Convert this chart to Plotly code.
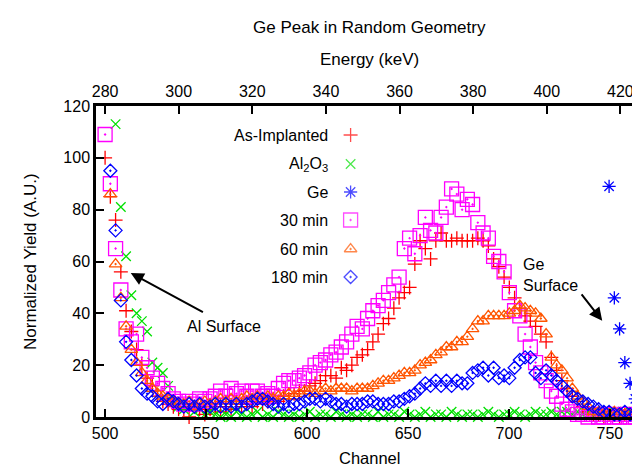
import numpy as np
import plotly.graph_objects as go

# ---------------- data ----------------
# measurement channel grid (shared by the sample spectra)
channel = np.round(500 + 2.6 * np.arange(103), 1)

as_implanted = [
    100, 85, 76, 56, 41, 33, 26, 20, 15, 12,
    8, 6, 5, 4, 3, 3, 0, 4, 3, 1,
    3, 4, 2, 4, 3, 5, 4, 5, 4, 6,
    5, 6, 7, 6, 8, 7, 9, 10, 10, 12,
    13, 14, 16, 16, 15, 19, 18, 20, 23, 24,
    26, 29, 32, 36, 38, 42, 46, 48, 50, 59,
    68, 65, 61, 68, 71, 68, 68, 69, 68, 68,
    68, 69, 68, 66, 61, 58, 54, 50, 46, 42,
    39, 37, 35, 32, 29, 23, 18, 14, 11, 8,
    6, 4, 2, 1, 1, 0, 1, 1, 0, 1,
    1, 0, 1]

al2o3 = [
    None, None, 113, 81, 62, 47, 40, 37, 33, 21,
    19, 17, 12, 6, 4, 3, 4, 2, 3, 1,
    2, 1, 0, 1, 0, 2, 1, 0, 1, 2,
    0, 1, 0, 2, 1, 0, 1, 0, 1, 2,
    0, 1, 1, 0, 2, 1, 0, 1, 0, 1,
    1, 0, 2, 0, 1, 1, 0, 2, 1, 0,
    1, 2, 0, 1, 1, 0, 2, 1, 0, 1,
    1, 0, 1, 2, 1, 0, 1, 1, 2, 1,
    0, 1, 2, 1, 1, 2, 1, 2, 2, 1,
    2, 1, 2, 1, 2, 2, 1, 2, 1, 2,
    2, 1, 2]

ge_channel = [749.6, 752.2, 754.8, 757.4, 760.0, 762.6, 765.2]
ge_yield = [89, 46, 34, 21, 13, 7, 4]

min30 = [
    109, 90, 65, 49, 34, 29, 32, 23, 19, 15,
    13, 11, 9, 7, 6, 5, 6, 5, 7, 6,
    7, 8, 10, 8, 11, 9, 10, 8, 10, 10,
    8, 9, 8, 11, 13, 14, 14, 15, 16, 17,
    20, 21, 22, 24, 25, 27, 29, 32, 35, 34,
    38, 41, 43, 45, 48, 51, 54, 65, 69, 63,
    70, 77, 72, 71, 77, 81, 88, 86, 80, 84,
    82, 75, 71, 69, 62, 60, 56, 48, 41, 39,
    32, 27, 21, 17, 14, 10, 8, 5, 3, 2,
    1, 1, 0, 1, 0, 0, 1, 0, 0, 1,
    0, 0, 1]

min60 = [
    None, 86, 59, 46, 35, 26, 21, 17, 14, 11,
    9, 8, 7, 6, 5, 5, 6, 4, 5, 6,
    5, 6, 7, 6, 7, 6, 7, 8, 7, 8,
    7, 8, 7, 8, 8, 9, 8, 9, 10, 10,
    9, 10, 11, 10, 11, 11, 11, 10, 11, 11,
    11, 12, 13, 14, 14, 15, 16, 17, 17, 18,
    20, 21, 22, 24, 25, 27, 27, 29, 29, 31,
    34, 37, 37, 39, 39, 39, 39, 40, 41, 43,
    42, 41, 40, 38, 32, 23, 20, 18, 15, 11,
    8, 6, 4, 2, 2, 1, 1, 2, 1, 1,
    1, 2, 1]

min180 = [
    None, 95, 72, 45, 29, 22, 16, 11, 9, 8,
    6, 5, 7, 6, 5, 4, 5, 4, 5, 4,
    4, 5, 4, 5, 4, 5, 4, 5, 6, 7,
    7, 6, 5, 4, 5, 4, 5, 5, 6, 7,
    7, 6, 7, 6, 5, 5, 4, 5, 5, 5,
    6, 6, 5, 5, 5, 6, 6, 7, 8, 9,
    11, 13, 12, 14, 12, 14, 12, 14, 13, 13,
    17, 18, 19, 16, 19, 15, 16, 15, 19, 22,
    23, 23, 17, 15, 18, 16, 14, 12, 10, 8,
    7, 6, 5, 4, 3, 2, 2, 1, 1, 2,
    1, 1, 2]

labels = ["As-Implanted", "Al<sub>2</sub>O<sub>3</sub>", "Ge", "30 min", "60 min", "180 min"]
colors = ["#ff0000", "#00e000", "#0000ff", "#ff00ff", "#ff5500", "#0000ff"]
symbols = ["cross-thin-open", "x-thin-open", "asterisk-open",
           "square-open-dot", "triangle-up-open-dot", "diamond-open-dot"]
sizes = [10, 9.5, 11, 14, 11, 10]

x_ticks = [500, 550, 600, 650, 700, 750]
y_ticks = [0, 20, 40, 60, 80, 100, 120]
e_ticks = [280, 300, 320, 340, 360, 380, 400, 420]

X_RANGE = [495.5, 765.9]
Y_RANGE = [0, 120]
# energy calibration of the top axis: E = E0 + EK * (channel - 500)
E0, EK = 280.0, 0.5486

# ---------------- figure ----------------
FONT = "Liberation Sans"
fig = go.Figure()

series = [(channel, as_implanted), (channel, al2o3), (ge_channel, ge_yield),
          (channel, min30), (channel, min60), (channel, min180)]
for (xs, ys), col, sym, sz in zip(series, colors, symbols, sizes):
    fig.add_trace(go.Scatter(
        x=xs, y=ys, mode="markers", showlegend=False, cliponaxis=False,
        marker=dict(symbol=sym, size=sz, color=col,
                    line=dict(color=col, width=1.3)),
        xaxis="x", yaxis="y"))

# gnuplot-style key (text right, symbol on the right) on a pixel-like overlay axis
key_x = 344
key_y = [127, 156, 184, 212, 241, 269]
fig.add_trace(go.Scatter(
    x=[key_x] * 6, y=key_y, mode="markers", showlegend=False, cliponaxis=False,
    marker=dict(symbol=symbols, size=sizes, color=colors,
                line=dict(color=colors, width=1.3)),
    xaxis="x3", yaxis="y3", hoverinfo="skip"))

annotations = []
for lab, yy in zip(labels, key_y):
    annotations.append(dict(x=323, y=yy, xref="x3", yref="y3", text=lab,
                            showarrow=False, xanchor="right", yanchor="middle",
                            font=dict(family=FONT, size=16, color="black")))

# arrows and their labels
annotations.append(dict(x=512.7, y=55.6, ax=549.2, ay=40.2, xref="x", yref="y",
                        axref="x", ayref="y", text="", showarrow=True,
                        arrowhead=2, arrowsize=1.3, arrowwidth=2, arrowcolor="black"))
annotations.append(dict(x=539.8, y=35.1, xref="x", yref="y", text="Al Surface",
                        showarrow=False, xanchor="left", yanchor="middle",
                        font=dict(family=FONT, size=16, color="black")))
annotations.append(dict(x=746.2, y=37.1, ax=735.4, ay=47.9, xref="x", yref="y",
                        axref="x", ayref="y", text="", showarrow=True,
                        arrowhead=2, arrowsize=1.3, arrowwidth=2, arrowcolor="black"))
annotations.append(dict(x=705.8, y=54.6, xref="x", yref="y", text="Ge<br>Surface",
                        showarrow=False, xanchor="left", yanchor="middle", align="left",
                        font=dict(family=FONT, size=16, color="black")))

# titles
annotations.append(dict(x=0.5, y=-0.132, xref="paper", yref="paper", text="Channel",
                        showarrow=False, xanchor="center", yanchor="middle",
                        font=dict(family=FONT, size=16.5, color="black")))
annotations.append(dict(x=-0.120, y=0.5, xref="paper", yref="paper",
                        text="Normalized Yield (A.U.)", textangle=-90,
                        showarrow=False, xanchor="center", yanchor="middle",
                        font=dict(family=FONT, size=17, color="black")))
annotations.append(dict(x=0.5, y=1.151, xref="paper", yref="paper", text="Energy (keV)",
                        showarrow=False, xanchor="center", yanchor="middle",
                        font=dict(family=FONT, size=17, color="black")))
annotations.append(dict(x=0.5, y=1.251, xref="paper", yref="paper",
                        text="Ge Peak in Random Geometry",
                        showarrow=False, xanchor="center", yanchor="middle",
                        font=dict(family=FONT, size=17, color="black")))

axis_common = dict(showgrid=False, zeroline=False, showline=True, linecolor="black",
                   linewidth=2.5, ticks="inside", ticklen=8, tickwidth=1.5,
                   tickcolor="black", tickfont=dict(family=FONT, size=16, color="black"))

fig.update_layout(
    width=640, height=466,
    margin=dict(l=88, r=3, t=98, b=57),
    paper_bgcolor="white", plot_bgcolor="white",
    font=dict(family=FONT, size=16, color="black"),
    xaxis=dict(range=X_RANGE, tickvals=x_ticks, mirror=False, **axis_common),
    xaxis2=dict(range=[E0 + EK * (X_RANGE[0] - 500), E0 + EK * (X_RANGE[1] - 500)],
                overlaying="x", side="top", anchor="y", tickvals=e_ticks, **axis_common),
    yaxis=dict(range=Y_RANGE, tickvals=y_ticks, mirror="ticks", **axis_common),
    xaxis3=dict(range=[88, 637], overlaying="x", visible=False, anchor="y3"),
    yaxis3=dict(range=[409, 98], overlaying="y", visible=False, anchor="x3"),
    annotations=annotations,
)
# dummy trace so the top energy axis is drawn
fig.add_trace(go.Scatter(x=[None], y=[None], xaxis="x2", yaxis="y", showlegend=False))

fig.write_html("out.html")
